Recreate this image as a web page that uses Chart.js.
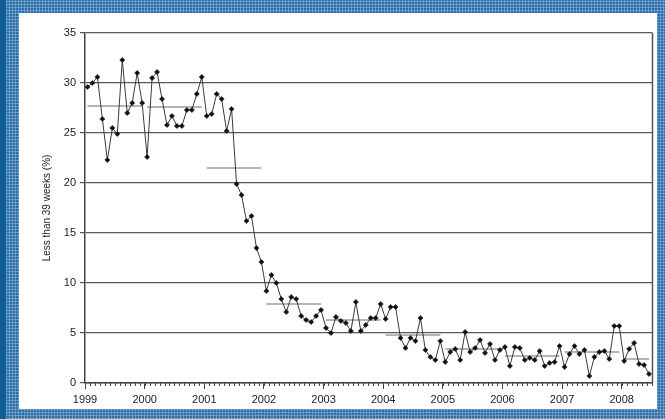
<!DOCTYPE html>
<html>
<head>
<meta charset="utf-8">
<script src="https://cdn.jsdelivr.net/npm/chart.js@4/dist/chart.umd.min.js"></script>
<style>
  html, body { margin: 0; padding: 0; }
  body {
    width: 665px; height: 419px; position: relative; overflow: hidden;
    background-color: #2d6ea7;
    background-image:
      repeating-linear-gradient(0deg, rgba(160,200,235,0.45) 0 1px, transparent 1px 3px),
      repeating-linear-gradient(90deg, rgba(160,200,235,0.45) 0 1px, transparent 1px 3px);
  }
  #edge { position: absolute; left: 0; top: 0; width: 6px; height: 419px; background: #0f5d93; }
  #panel { position: absolute; left: 19px; top: 13px; width: 638px; height: 396px; background: #fff; }
  canvas { display: block; }
</style>
</head>
<body>
<div id="edge"></div>
<div id="panel"><canvas id="c" width="638" height="396"></canvas></div>
<script>
// Year tick labels on the time axis
const years = [1999, 2000, 2001, 2002, 2003, 2004, 2005, 2006, 2007, 2008];

// Monthly share of waits under 39 weeks (%), January 1999 to June 2008
const monthlyShare = [
  // 1999
  29.6, 30.0, 30.6, 26.4, 22.3, 25.5, 24.9, 32.3, 27.0, 28.0, 31.0, 28.0,
  // 2000
  22.6, 30.5, 31.1, 28.4, 25.8, 26.7, 25.7, 25.7, 27.3, 27.3, 28.9, 30.6,
  // 2001
  26.7, 26.9, 28.9, 28.4, 25.2, 27.4, 19.9, 18.8, 16.2, 16.7, 13.5, 12.1,
  // 2002
  9.2, 10.8, 10.0, 8.4, 7.1, 8.6, 8.4, 6.7, 6.3, 6.1, 6.7, 7.3,
  // 2003
  5.5, 5.0, 6.6, 6.2, 6.0, 5.2, 8.1, 5.2, 5.8, 6.5, 6.5, 7.9,
  // 2004
  6.4, 7.6, 7.6, 4.5, 3.5, 4.5, 4.2, 6.5, 3.3, 2.6, 2.3, 4.2,
  // 2005
  2.1, 3.1, 3.4, 2.3, 5.1, 3.1, 3.5, 4.3, 3.0, 3.9, 2.3, 3.3,
  // 2006
  3.6, 1.7, 3.6, 3.5, 2.3, 2.5, 2.3, 3.2, 1.7, 2.0, 2.1, 3.7,
  // 2007
  1.6, 2.9, 3.7, 2.9, 3.3, 0.7, 2.6, 3.1, 3.2, 2.4, 5.7, 5.7,
  // 2008
  2.2, 3.4, 4.0, 1.9, 1.8, 0.9
];

// Annual mean for each year
const annualMean = [27.7, 27.6, 21.5, 7.9, 6.3, 4.8, 3.4, 2.7, 3.1, 2.4];

// y-axis tick values
const yTicks = [0, 5, 10, 15, 20, 25, 30, 35];

const firstYear = years[0];
const monthPos = i => firstYear + (i + 0.5) / 12;   // mid-month position

const monthlyPoints = monthlyShare.map((v, i) => ({ x: monthPos(i), y: v }));

const meanPoints = [];
years.forEach((yr, k) => {
  const first = k * 12;
  const last = Math.min(first + 11, monthlyShare.length - 1);
  meanPoints.push({ x: monthPos(first), y: annualMean[k] });
  meanPoints.push({ x: monthPos(last), y: annualMean[k] });
  meanPoints.push({ x: yr + 1, y: null });
});

const xMax = firstYear + (monthlyShare.length + 0.2) / 12;

// Right-hand frame line and monthly minor ticks along the time axis
const framePlugin = {
  id: 'frame',
  afterDraw(chart) {
    const { ctx, chartArea: a, scales: { x } } = chart;
    ctx.save();
    ctx.strokeStyle = '#555';
    ctx.lineWidth = 1.5;
    ctx.beginPath();
    ctx.moveTo(a.right, a.top);
    ctx.lineTo(a.right, a.bottom);
    ctx.stroke();
    ctx.strokeStyle = '#444';
    ctx.lineWidth = 1;
    ctx.beginPath();
    for (let m = 0; m <= monthlyShare.length; m++) {
      const v = firstYear + m / 12;
      if (v > xMax) break;
      const px = Math.round(x.getPixelForValue(v)) + 0.5;
      ctx.moveTo(px, a.bottom);
      ctx.lineTo(px, a.bottom + 3);
    }
    ctx.stroke();
    ctx.restore();
  }
};

new Chart(document.getElementById('c'), {
  type: 'line',
  data: {
    datasets: [
      {
        data: monthlyPoints,
        borderColor: '#3a3a3a',
        borderWidth: 1,
        pointStyle: 'rectRot',
        pointRadius: 2.6,
        pointBackgroundColor: '#111',
        pointBorderColor: '#111',
        pointBorderWidth: 0.5,
        tension: 0
      },
      {
        data: meanPoints,
        borderColor: '#b4b4b4',
        borderWidth: 2,
        pointRadius: 0,
        spanGaps: false,
        tension: 0
      }
    ]
  },
  options: {
    responsive: false,
    animation: false,
    layout: { padding: { left: 0, top: 20, right: 4, bottom: 0 } },
    plugins: { legend: { display: false }, tooltip: { enabled: false } },
    scales: {
      x: {
        type: 'linear',
        min: firstYear,
        max: xMax,
        afterBuildTicks(scale) {
          scale.ticks = years.map(v => ({ value: v }));
        },
        afterFit(scale) { scale.height = 26; },
        ticks: {
          callback: v => String(v),
          color: '#222',
          font: { family: 'Liberation Sans, Arial, sans-serif', size: 11 },
          maxRotation: 0,
          padding: 4,
          autoSkip: false
        },
        grid: {
          drawOnChartArea: false,
          drawTicks: true,
          tickLength: 6,
          tickColor: '#444',
          tickWidth: 1
        },
        border: { display: true, color: '#444', width: 1.5 }
      },
      y: {
        min: 0,
        max: 35,
        afterBuildTicks(scale) {
          scale.ticks = yTicks.map(v => ({ value: v }));
        },
        afterFit(scale) { scale.width = 66; },
        ticks: {
          color: '#222',
          font: { family: 'Liberation Sans, Arial, sans-serif', size: 11 },
          padding: 4
        },
        grid: {
          color: '#5a5a5a',
          lineWidth: 1.2,
          tickLength: 5,
          tickColor: '#555'
        },
        border: { display: true, color: '#444', width: 1.5 },
        title: {
          display: true,
          text: 'Less than 39 weeks (%)',
          color: '#222',
          font: { family: 'Liberation Sans, Arial, sans-serif', size: 10 },
          padding: { top: 22, bottom: 0 }
        }
      }
    }
  },
  plugins: [framePlugin]
});
</script>
</body>
</html>
